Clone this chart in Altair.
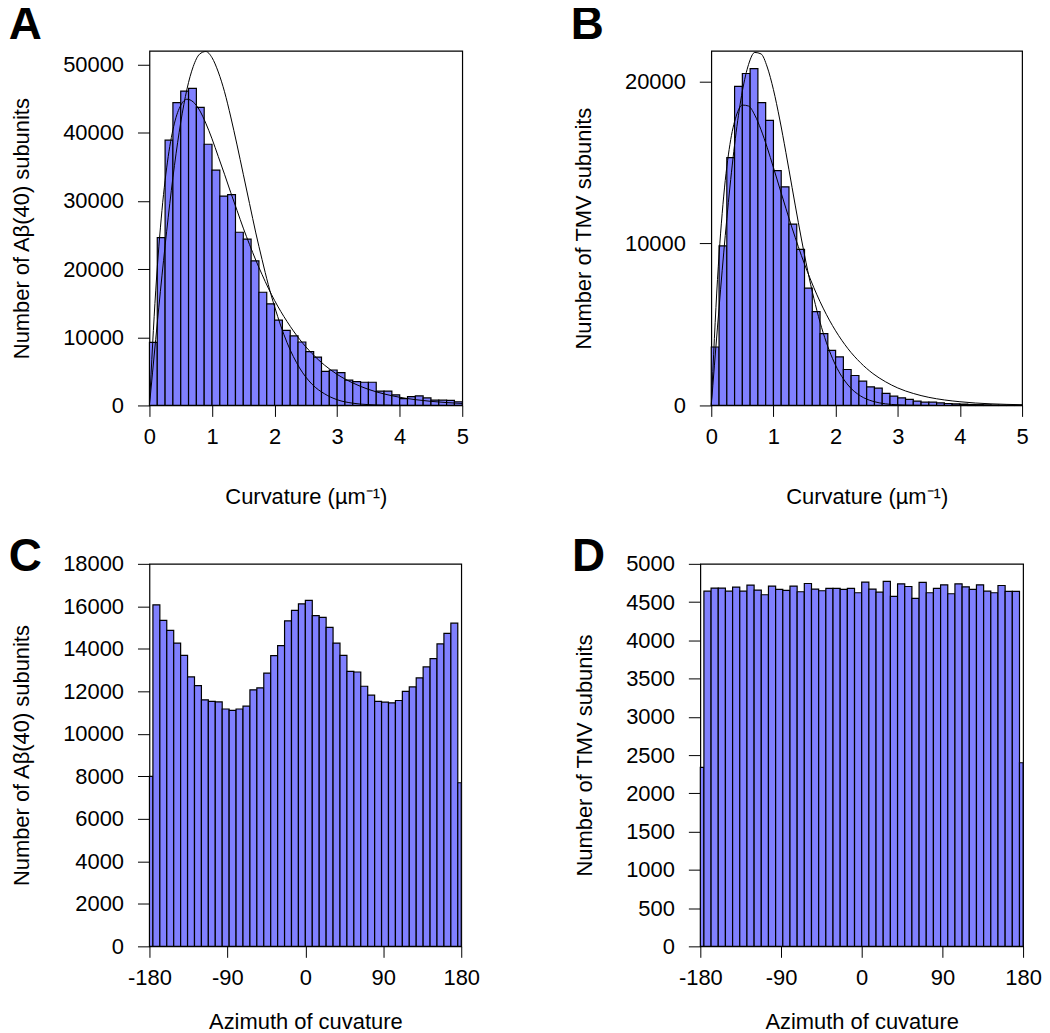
import altair as alt
import pandas as pd

# ---------------- data ----------------
# curvature histograms: 40 bins of 0.125 from 0 to 5
curv_bin_start = [i * 0.125 for i in range(40)]
A_counts = [9260, 24600, 38900, 44400, 46100, 46500, 43700, 38300, 34500, 30700,
            30900, 25400, 24400, 21200, 16600, 14900, 12500, 11000, 10200, 9300,
            7900, 7100, 5000, 5200, 4800, 3700, 3500, 3400, 3400, 2100,
            2100, 1560, 1000, 1300, 1400, 1100, 780, 780, 730, 540]
B_counts = [3610, 9850, 15300, 19700, 20500, 20800, 18700, 17600, 14500, 13500,
            11200, 9640, 7240, 5800, 4430, 3400, 3000, 2220, 1850, 1500,
            1150, 1070, 740, 570, 470, 370, 270, 205, 205, 160,
            120, 100, 80, 60, 50, 40, 30, 20, 15, 10]

# fitted curves
fit_x = [0, 0.1, 0.2, 0.3, 0.4, 0.5, 0.6, 0.7, 0.8, 0.9, 1.0, 1.1, 1.2, 1.3, 1.4,
         1.5, 1.6, 1.7, 1.8, 1.9, 2.0, 2.2, 2.4, 2.6, 2.8, 3.0, 3.25, 3.5, 3.75,
         4.0, 4.25, 4.5, 4.75, 5.0]
A_fit_tall = [0, 9700, 19000, 27600, 35200, 41500, 46400, 49700, 51500, 51900,
              51000, 48900, 46000, 42300, 38200, 33900, 29600, 25300, 21400, 17700,
              14500, 9200, 5500, 3100, 1700, 840, 330, 120, 40, 12, 3, 1, 0, 0]
A_fit_wide = [0, 16800, 28600, 36500, 41400, 44000, 44900, 44500, 43300, 41400,
              39100, 36500, 33900, 31200, 28600, 26000, 23600, 21300, 19200, 17200,
              15400, 12300, 9700, 7600, 5900, 4560, 3300, 2360, 1690, 1200, 850,
              600, 420, 300]
B_fit_tall = [0, 4840, 9420, 13490, 16870, 19410, 21060, 21800, 21710, 20900,
              19500, 17690, 15630, 13460, 11310, 9290, 7450, 5850, 4490, 3380,
              2480, 1260, 590, 256, 102, 38, 8, 1, 0, 0, 0, 0, 0, 0]
B_fit_wide = [0, 7780, 12930, 16120, 17860, 18550, 18490, 17930, 17030, 15920,
              14690, 13430, 12180, 10960, 9810, 8730, 7740, 6830, 6010, 5270,
              4610, 3500, 2640, 1970, 1470, 1080, 740, 500, 340, 230, 150, 100,
              67, 45]

# azimuth histograms: 8-degree bins, half bins at both ends
az_edges = [-180] + list(range(-176, 177, 8)) + [180]
C_counts = [8000, 16070, 15340, 14870, 14270, 13690, 12680, 12270, 11600, 11530,
            11500, 11170, 11100, 11170, 11300, 12070, 12160, 12860, 13680, 14150,
            15320, 15810, 16120, 16280, 15560, 15480, 15010, 14270, 13690, 12940,
            12910, 12240, 11820, 11530, 11490, 11460, 11570, 12000, 12210, 12630,
            13150, 13540, 14230, 14730, 15210, 7700]
D_counts = [2340, 4643, 4683, 4683, 4643, 4696, 4643, 4722, 4657, 4596,
            4709, 4665, 4652, 4709, 4635, 4743, 4670, 4648, 4678, 4678,
            4665, 4678, 4622, 4761, 4670, 4630, 4770, 4574, 4739, 4704,
            4548, 4757, 4622, 4678, 4726, 4609, 4739, 4700, 4665, 4726,
            4643, 4622, 4717, 4639, 4639, 2400]

curv_ticks = [0, 1, 2, 3, 4, 5]
az_ticks = [-180, -90, 0, 90, 180]
A_yticks = [0, 10000, 20000, 30000, 40000, 50000]
B_yticks = [0, 10000, 20000]
C_yticks = list(range(0, 18001, 2000))
D_yticks = list(range(0, 5001, 500))

# ---------------- style ----------------
FONT = "Liberation Sans"
FILL = "#8080ff"
FS = 22


def y_axis(title, values):
    return alt.Axis(title=title, values=values, grid=False, domain=False,
                    tickSize=12, tickColor="black", tickWidth=1,
                    labelFontSize=FS, labelColor="black", labelFont=FONT,
                    labelPadding=14, labelExpr="'' + datum.value",
                    labelOverlap=False,
                    titleFontSize=FS, titleFont=FONT, titleFontWeight="normal",
                    titleColor="black", titlePadding=29)


def x_axis(title, values, tpad):
    return alt.Axis(title=title, values=values, grid=False, domain=False,
                    tickSize=11, tickColor="black", tickWidth=1,
                    labelFontSize=FS, labelColor="black", labelFont=FONT,
                    labelPadding=10, labelExpr="'' + datum.value",
                    labelFlush=False, labelOverlap=False,
                    titleFontSize=FS, titleFont=FONT, titleFontWeight="normal",
                    titleColor="black", titlePadding=tpad)


def letter(t, offset):
    return alt.TitleParams(text=t, anchor="start", frame="bounds", fontSize=46,
                           fontWeight="bold", font=FONT, color="black",
                           dx=-2, offset=offset)


def bar_layer(hist, xs, ys, xaxis, yaxis):
    return alt.Chart(hist).mark_rect(fill=FILL, stroke="black",
                                     strokeWidth=1.2).encode(
        x=alt.X("x0:Q", scale=xs, axis=xaxis),
        x2="x1:Q",
        y=alt.Y("n:Q", scale=ys, axis=yaxis),
        y2=alt.datum(0),
    )


def curvature_panel(counts, tall, wide, ymax, yticks, ytitle, let, width):
    hist = pd.DataFrame({"x0": curv_bin_start,
                         "x1": [s + 0.125 for s in curv_bin_start],
                         "n": counts})
    fits = pd.DataFrame({"x": fit_x, "tall": tall, "wide": wide})
    xs = alt.Scale(domain=[0, 5], nice=False, zero=False)
    ys = alt.Scale(domain=[0, ymax], nice=False)
    bars = bar_layer(hist, xs, ys, x_axis("Curvature (µm⁻¹)", curv_ticks, 39),
                     y_axis(ytitle, yticks))
    l1 = alt.Chart(fits).mark_line(color="black", strokeWidth=1,
                                   interpolate="monotone").encode(
        x=alt.X("x:Q", scale=xs), y=alt.Y("tall:Q", scale=ys))
    l2 = alt.Chart(fits).mark_line(color="black", strokeWidth=1,
                                   interpolate="monotone").encode(
        x=alt.X("x:Q", scale=xs), y=alt.Y("wide:Q", scale=ys))
    return alt.layer(bars, l1, l2).properties(width=width, height=356,
                                              title=letter(let, 1))


def azimuth_panel(counts, ymax, yticks, ytitle, let, width):
    hist = pd.DataFrame({"x0": az_edges[:-1], "x1": az_edges[1:], "n": counts})
    xs = alt.Scale(domain=[-180, 180], nice=False, zero=False)
    ys = alt.Scale(domain=[0, ymax], nice=False)
    bars = bar_layer(hist, xs, ys, x_axis("Azimuth of cuvature", az_ticks, 23),
                     y_axis(ytitle, yticks))
    return bars.properties(width=width, height=384, title=letter(let, -28))


A = curvature_panel(A_counts, A_fit_tall, A_fit_wide, 52000, A_yticks,
                    "Number of Aβ(40) subunits", "A", 314)
B = curvature_panel(B_counts, B_fit_tall, B_fit_wide, 21900, B_yticks,
                    "Number of TMV subunits", "B", 312)
C = azimuth_panel(C_counts, 18000, C_yticks, "Number of Aβ(40) subunits", "C", 313)
D = azimuth_panel(D_counts, 5000, D_yticks, "Number of TMV subunits", "D", 324)

chart = alt.vconcat(
    alt.hconcat(A, B, spacing=101),
    alt.hconcat(C, D, spacing=91),
    spacing=25,
).properties(
    padding={"left": 0, "top": -9, "right": 0, "bottom": 0},
    background="white",
).configure_view(stroke="black", strokeWidth=1.2)

chart.save("out.html", embed_options={"renderer": "svg", "actions": False})
